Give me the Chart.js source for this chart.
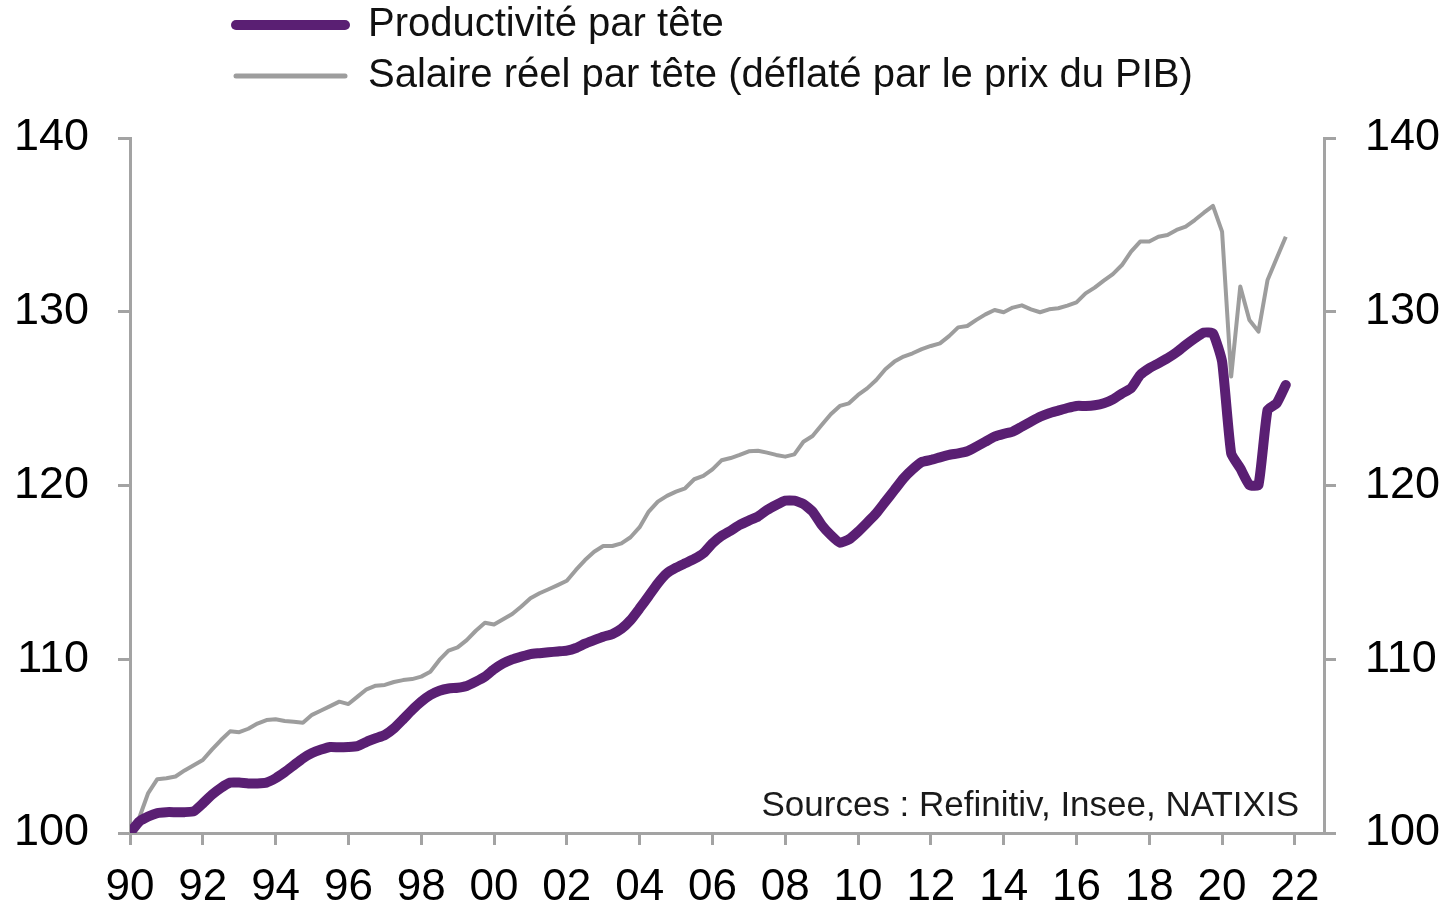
<!DOCTYPE html>
<html lang="fr">
<head>
<meta charset="utf-8">
<title>Productivité et salaire réel par tête</title>
<script src="https://cdn.jsdelivr.net/npm/chart.js@4.4.1/dist/chart.umd.min.js"></script>
<style>
  html, body { margin: 0; padding: 0; background: #fff; }
  #wrap { position: relative; width: 1447px; height: 910px; }
</style>
</head>
<body>
<div id="wrap"><canvas id="chart"></canvas></div>
<script>
// Quarterly data, 1990 Q1 -> 2021 Q4 (index 1990 Q1 = 100)
const FIRST_YEAR = 1990;

const productivite = [
  100.0, 100.65, 100.95, 101.15, 101.2, 101.2, 101.2, 101.25,
  101.7, 102.2, 102.6, 102.9, 102.9, 102.85, 102.85, 102.9,
  103.15, 103.5, 103.9, 104.3, 104.6, 104.8, 104.95, 104.93,
  104.95, 105.0, 105.25, 105.45, 105.64, 106.02, 106.54, 107.08,
  107.56, 107.94, 108.19, 108.32, 108.36, 108.46, 108.71, 109.0,
  109.42, 109.76, 109.99, 110.15, 110.3, 110.35, 110.4, 110.45,
  110.5, 110.65, 110.9, 111.1, 111.3, 111.45, 111.75, 112.25,
  112.93, 113.64, 114.37, 114.95, 115.27, 115.52, 115.77, 116.1,
  116.67, 117.1, 117.4, 117.73, 117.98, 118.21, 118.59, 118.88,
  119.13, 119.13, 118.94, 118.5, 117.73, 117.15, 116.71, 116.9,
  117.34, 117.86, 118.4, 119.07, 119.74, 120.41, 120.93, 121.35,
  121.47, 121.62, 121.76, 121.85, 121.97, 122.24, 122.52, 122.81,
  122.97, 123.1, 123.39, 123.68, 123.96, 124.16, 124.31, 124.46,
  124.58, 124.58, 124.62, 124.73, 124.96, 125.3, 125.6, 126.36,
  126.75, 127.03, 127.32, 127.67, 128.09, 128.47, 128.8, 128.76,
  127.13, 121.85, 120.99, 120.03, 120.03, 124.35, 124.73, 125.79
];

const salaire_reel = [
  100.0, 100.85, 102.3, 103.1, 103.15, 103.25, 103.6, 103.9,
  104.2, 104.8, 105.35, 105.85, 105.8, 106.0, 106.3, 106.5,
  106.55, 106.45, 106.4, 106.35, 106.8, 107.05, 107.3, 107.56,
  107.42, 107.85, 108.27, 108.48, 108.52, 108.69, 108.8, 108.86,
  109.0, 109.28, 109.96, 110.5, 110.68, 111.1, 111.64, 112.1,
  112.0, 112.3, 112.6, 113.04, 113.51, 113.8, 114.03, 114.27,
  114.52, 115.14, 115.71, 116.19, 116.52, 116.52, 116.67, 117.02,
  117.6, 118.5, 119.07, 119.4, 119.65, 119.84, 120.36, 120.55,
  120.93, 121.45, 121.58, 121.76, 121.97, 122.0, 121.89, 121.76,
  121.66, 121.79, 122.52, 122.85, 123.48, 124.1, 124.58, 124.73,
  125.21, 125.59, 126.07, 126.69, 127.13, 127.42, 127.61, 127.85,
  128.03, 128.18, 128.6, 129.1, 129.18, 129.53, 129.85, 130.1,
  129.97, 130.24, 130.37, 130.14, 129.97, 130.14, 130.2, 130.35,
  130.54, 131.06, 131.39, 131.79, 132.17, 132.69, 133.46, 134.04,
  134.04, 134.32, 134.42, 134.71, 134.9, 135.28, 135.7, 136.09,
  134.61, 126.27, 131.45, 129.53, 128.86, 131.83, 133.08, 134.32
];

const x_ticks = [1990, 1992, 1994, 1996, 1998, 2000, 2002, 2004, 2006,
                 2008, 2010, 2012, 2014, 2016, 2018, 2020, 2022];
const y_ticks = [100, 110, 120, 130, 140];

const series_labels = ["Productivité par tête", "Salaire réel par tête (déflaté par le prix du PIB)"];
const source_text = "Sources : Refinitiv, Insee, NATIXIS";

// quarter positions on the time axis
const quarters = productivite.map((_, i) => FIRST_YEAR + i / 4);

const PURPLE = '#5a1f73';
const GREY = '#9d9d9d';
const AXIS = '#a3a3a3';
const FONT = '"Liberation Sans", Arial, sans-serif';

// Legend on two rows + sources note, drawn on the canvas
const notes_plugin = {
    id: 'notes',
    afterDraw(chart) {
        const ctx = chart.ctx;
        const area = chart.chartArea;
        ctx.save();
        chart.data.datasets.forEach((ds, i) => {
            const y = 25 + i * 51;
            ctx.beginPath();
            ctx.lineCap = 'round';
            ctx.strokeStyle = ds.borderColor;
            ctx.lineWidth = i === 0 ? 10 : 5;
            ctx.moveTo(236, y);
            ctx.lineTo(345, y);
            ctx.stroke();
            ctx.fillStyle = '#111';
            ctx.font = '40px ' + FONT;
            ctx.textBaseline = 'middle';
            ctx.textAlign = 'left';
            ctx.fillText(ds.label, 368, y);
        });
        ctx.font = '35px ' + FONT;
        ctx.fillStyle = '#1a1a1a';
        ctx.textAlign = 'right';
        ctx.textBaseline = 'alphabetic';
        ctx.fillText(source_text, area.right - 25, area.bottom - 17);
        ctx.restore();
    }
};

function y_axis(position, width) {
    return {
        type: 'linear',
        position: position,
        min: 100,
        max: 140,
        afterBuildTicks: s => { s.ticks = y_ticks.map(v => ({ value: v })); },
        afterFit: s => { s.width = width; },
        grid: { drawOnChartArea: false, color: AXIS, lineWidth: 3, tickLength: 12 },
        border: { color: AXIS, width: 3 },
        ticks: { color: '#000', font: { family: FONT, size: 45 }, padding: 29 }
    };
}

new Chart(document.getElementById('chart'), {
    type: 'line',
    data: {
        datasets: [
            {
                label: series_labels[0],
                data: quarters.map((q, i) => ({ x: q, y: productivite[i] })),
                borderColor: PURPLE,
                borderWidth: 10,
                borderJoinStyle: 'round',
                borderCapStyle: 'round',
                pointRadius: 0,
                tension: 0.15
            },
            {
                label: series_labels[1],
                data: quarters.map((q, i) => ({ x: q, y: salaire_reel[i] })),
                borderColor: GREY,
                borderWidth: 4,
                borderJoinStyle: 'round',
                pointRadius: 0,
                tension: 0
            }
        ]
    },
    plugins: [notes_plugin],
    options: {
        responsive: true,
        maintainAspectRatio: false,
        animation: false,
        layout: { padding: { top: 138, left: 0, right: 0, bottom: 0 } },
        plugins: {
            legend: { display: false },
            tooltip: { enabled: false }
        },
        scales: {
            x: {
                type: 'linear',
                min: 1990,
                max: 2022.8,
                afterBuildTicks: s => { s.ticks = x_ticks.map(v => ({ value: v })); },
                afterFit: s => { s.height = 77; },
                grid: { drawOnChartArea: false, color: AXIS, lineWidth: 3, tickLength: 12 },
                border: { color: AXIS, width: 3 },
                ticks: {
                    color: '#000',
                    font: { family: FONT, size: 44 },
                    padding: 16,
                    maxRotation: 0,
                    callback: v => String(v % 100).padStart(2, '0')
                }
            },
            y: y_axis('left', 130),
            y2: y_axis('right', 123)
        }
    }
});
</script>
</body>
</html>
